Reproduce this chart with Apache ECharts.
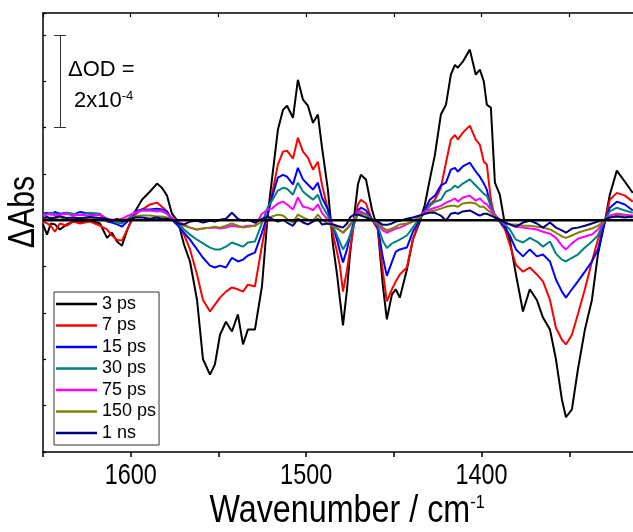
<!DOCTYPE html>
<html>
<head>
<meta charset="utf-8">
<script src="https://cdn.jsdelivr.net/npm/echarts@6/dist/echarts.min.js"></script>
<style>html,body{margin:0;padding:0;background:#fff}#c{width:633px;height:532px}</style>
</head>
<body>
<div id="c"></div>
<script>
const wavenumbers = [1650.0,1647.7,1645.5,1643.2,1640.4,1636.4,1632.9,1628.9,1623.2,1617.5,
1613.5,1610.7,1607.8,1605.0,1601.5,1597.5,1593.6,1589.0,1585.0,1582.2,
1579.3,1576.5,1573.0,1569.6,1566.2,1562.2,1558.8,1554.8,1552.0,1549.1,
1545.7,1542.3,1538.9,1536.0,1533.2,1529.2,1525.2,1521.8,1519.5,1516.1,
1513.2,1510.9,1507.5,1504.7,1501.8,1499.0,1496.1,1493.3,1491.0,1487.6,
1484.7,1482.4,1480.7,1479.0,1476.7,1475.0,1472.7,1470.5,1468.8,1465.9,
1462.5,1459.1,1456.3,1454.0,1451.1,1448.9,1446.6,1442.6,1439.2,1435.2,
1432.3,1429.5,1426.6,1423.2,1420.3,1417.5,1415.2,1413.5,1410.7,1406.7,
1403.3,1401.0,1398.7,1397.0,1394.7,1392.4,1389.6,1386.7,1383.9,1380.4,
1376.4,1372.5,1368.5,1365.0,1361.0,1357.6,1354.2,1351.9,1348.5,1345.1,
1341.1,1337.1,1333.7,1329.7,1326.9,1322.9,1318.3,1313.8];

// values in units of 1e-4 OD
const v3ps = [-0.09,-0.31,-0.07,-0.09,-0.20,-0.09,-0.03,-0.05,-0.01,-0.07,
-0.38,-0.27,-0.46,-0.55,-0.16,0.19,0.44,0.62,0.79,0.70,
0.53,0.14,-0.03,-0.53,-0.89,-1.72,-3.00,-3.33,-3.11,-2.47,
-2.19,-2.40,-2.03,-2.68,-2.36,-2.36,-1.43,0.15,0.88,1.95,
2.38,2.47,2.21,3.03,2.60,2.47,2.10,2.28,1.58,0.66,
-0.53,-1.17,-1.72,-2.27,-1.49,-0.74,0.06,0.77,0.98,0.88,
0.23,-0.20,-1.40,-2.14,-1.60,-1.49,-1.67,-1.07,-0.42,-0.03,
0.34,0.88,1.41,2.28,2.49,3.14,3.35,3.29,3.42,3.68,
3.14,3.25,2.99,2.49,2.43,0.81,0.55,-0.09,-0.42,-1.17,
-1.97,-1.49,-1.72,-2.10,-2.36,-3.00,-3.87,-4.25,-4.08,-3.22,
-2.36,-1.72,-0.74,-0.03,0.55,1.07,0.83,0.59];

const v7ps = [-0.03,-0.07,-0.12,-0.25,-0.07,-0.12,-0.03,-0.07,-0.03,-0.12,
-0.20,-0.33,-0.42,-0.44,-0.16,0.12,0.23,0.34,0.38,0.29,
0.19,0.01,-0.09,-0.31,-0.63,-1.17,-1.72,-1.97,-1.82,-1.67,
-1.54,-1.45,-1.49,-1.54,-1.39,-1.43,-0.55,0.14,0.55,1.20,
1.48,1.50,1.33,1.78,1.48,1.35,1.09,1.26,0.77,0.23,
-0.31,-0.68,-1.00,-1.54,-1.07,-0.63,-0.09,0.34,0.44,0.36,
0.01,-0.20,-1.10,-1.75,-1.49,-1.32,-1.17,-1.02,-0.42,0.03,
0.19,0.34,0.44,0.70,1.24,1.74,1.84,1.74,1.89,2.04,
1.74,1.63,1.26,1.20,0.44,0.06,-0.03,-0.20,-0.53,-0.96,
-1.11,-1.02,-1.17,-1.32,-1.72,-2.32,-2.58,-2.68,-2.47,-2.03,
-1.49,-0.89,-0.42,-0.03,0.44,0.59,0.53,0.40];

const v15ps = [0.14,0.16,0.12,0.18,0.14,0.16,0.12,0.18,0.14,0.12,
-0.03,-0.05,-0.09,-0.14,-0.01,0.19,0.23,0.23,0.25,0.23,
0.19,0.01,-0.12,-0.27,-0.42,-0.63,-0.81,-0.98,-1.02,-0.98,
-1.02,-0.81,-0.89,-0.85,-0.76,-0.70,-0.27,0.14,0.49,0.92,
0.98,0.94,0.77,1.13,0.88,0.77,0.66,0.81,0.49,0.23,
-0.16,-0.42,-0.68,-0.91,-0.63,-0.33,-0.03,0.21,0.27,0.21,
0.03,-0.16,-0.80,-1.20,-0.90,-0.68,-0.63,-0.59,-0.25,0.01,
0.23,0.44,0.53,0.75,0.81,1.09,1.13,1.05,1.16,1.24,
1.05,0.94,0.79,0.66,0.27,0.06,-0.03,-0.16,-0.33,-0.63,
-0.78,-0.63,-0.78,-0.74,-0.89,-1.28,-1.54,-1.67,-1.49,-1.32,
-1.11,-0.89,-0.63,-0.03,0.27,0.40,0.34,0.21];

const v30ps = [0.12,0.14,0.16,0.14,0.12,0.16,0.14,0.12,0.16,0.14,
0.01,-0.01,-0.05,-0.07,0.03,0.16,0.21,0.21,0.21,0.19,
0.14,0.03,-0.07,-0.20,-0.31,-0.42,-0.50,-0.59,-0.63,-0.63,
-0.57,-0.48,-0.53,-0.57,-0.48,-0.46,-0.07,0.29,0.42,0.64,
0.70,0.68,0.55,0.81,0.62,0.53,0.44,0.55,0.31,0.10,
-0.14,-0.33,-0.48,-0.63,-0.48,-0.33,-0.09,0.14,0.16,0.14,
0.01,-0.12,-0.45,-0.60,-0.50,-0.46,-0.42,-0.33,-0.16,0.06,
0.19,0.31,0.40,0.44,0.62,0.66,0.75,0.70,0.79,0.88,
0.75,0.66,0.57,0.53,0.31,0.12,-0.01,-0.09,-0.20,-0.42,
-0.48,-0.38,-0.46,-0.57,-0.46,-0.72,-0.85,-0.89,-0.81,-0.74,
-0.59,-0.46,-0.33,0.01,0.19,0.27,0.21,0.16];

const v75ps = [0.10,0.12,0.14,0.10,0.12,0.14,0.10,0.12,0.10,0.12,
0.03,0.01,0.01,0.03,0.10,0.16,0.21,0.21,0.19,0.21,
0.14,0.06,-0.03,-0.09,-0.16,-0.20,-0.18,-0.16,-0.16,-0.18,
-0.16,-0.12,-0.14,-0.14,-0.12,-0.12,0.14,0.23,0.25,0.36,
0.40,0.34,0.23,0.49,0.29,0.27,0.21,0.34,0.16,0.01,
-0.09,-0.16,-0.22,-0.27,-0.18,-0.12,0.03,0.19,0.19,0.12,
-0.01,-0.08,-0.22,-0.27,-0.22,-0.18,-0.16,-0.09,-0.03,0.10,
0.19,0.23,0.27,0.31,0.38,0.42,0.47,0.40,0.49,0.53,
0.42,0.47,0.38,0.34,0.23,0.12,0.01,-0.07,-0.09,-0.14,
-0.16,-0.18,-0.20,-0.25,-0.29,-0.38,-0.55,-0.63,-0.50,-0.40,
-0.35,-0.31,-0.20,-0.01,0.10,0.14,0.12,0.10];

const v150ps = [0.04,0.02,0.06,0.03,0.01,0.05,0.02,0.04,0.02,0.03,
-0.01,0.01,-0.03,-0.01,0.03,0.08,0.10,0.10,0.08,0.08,
0.06,0.01,-0.05,-0.12,-0.16,-0.20,-0.18,-0.16,-0.14,-0.16,
-0.12,-0.07,-0.12,-0.16,-0.14,-0.12,-0.03,0.03,0.08,0.12,
0.10,0.03,-0.05,0.12,0.06,0.01,-0.01,0.12,0.01,-0.07,
-0.14,-0.18,-0.22,-0.27,-0.18,-0.09,0.03,0.12,0.14,0.12,
0.01,-0.06,-0.16,-0.22,-0.18,-0.14,-0.09,-0.07,-0.03,0.06,
0.14,0.19,0.21,0.25,0.29,0.31,0.31,0.29,0.36,0.38,
0.36,0.29,0.29,0.23,0.16,0.08,0.01,-0.05,-0.09,-0.09,
-0.12,-0.12,-0.14,-0.16,-0.20,-0.27,-0.35,-0.38,-0.33,-0.27,
-0.22,-0.18,-0.12,-0.01,0.06,0.10,0.08,0.06];

const v1ns = [0.05,0.07,0.04,0.06,0.08,0.05,0.06,0.04,0.07,0.05,
0.03,-0.01,0.03,-0.03,0.01,0.06,0.06,0.03,0.06,0.03,
0.03,0.01,-0.07,-0.09,-0.03,-0.01,-0.05,-0.01,-0.03,0.01,
0.03,0.16,0.03,-0.01,0.01,-0.05,0.03,0.08,0.03,-0.03,
0.01,-0.05,-0.12,0.03,-0.05,-0.09,-0.03,0.03,-0.09,-0.07,
-0.09,-0.12,-0.14,-0.16,-0.07,0.06,0.12,0.12,0.10,0.06,
0.01,-0.03,-0.10,-0.10,-0.07,-0.03,-0.01,0.03,0.06,0.10,
0.14,0.16,0.16,0.10,-0.01,0.14,0.16,0.14,0.19,0.21,
0.14,0.10,0.14,0.14,0.10,0.06,0.01,-0.05,-0.09,-0.14,
-0.05,-0.01,-0.07,-0.16,-0.05,-0.16,-0.22,-0.27,-0.18,-0.16,
-0.12,-0.07,-0.03,0.01,0.06,0.08,0.06,0.08];

const seriesNames = ['3 ps','7 ps','15 ps','30 ps','75 ps','150 ps','1 ns'];
const seriesValues = [v3ps, v7ps, v15ps, v30ps, v75ps, v150ps, v1ns];
const seriesColors = ['#000000','#ff0000','#0000ff','#008080','#ff00ff','#808000','#000080'];
const xTickLabels = [1600, 1500, 1400];
const scaleBar = {x: 1640.3, from: 2, to: 4, cap: 3.4};

const FONT = "'Liberation Sans',Arial,sans-serif";

const chart = echarts.init(document.getElementById('c'), null, {renderer: 'canvas'});

const lines = seriesNames.map((n, k) => ({
  name: n, type: 'line', symbol: 'none', showSymbol: false, smooth: false,
  animation: false, z: 2 + k,
  lineStyle: {color: seriesColors[k], width: 2},
  itemStyle: {color: seriesColors[k]},
  data: wavenumbers.map((w, i) => [w, seriesValues[k][i]])
}));

lines.push({
  name: 'zero', type: 'line', symbol: 'none', showSymbol: false, animation: false, z: 20,
  lineStyle: {color: '#000', width: 2.5},
  data: [[1650, 0], [1300, 0]],
  markLine: {
    silent: true, symbol: ['none', 'none'], animation: false,
    label: {show: false},
    lineStyle: {color: '#333', width: 1, type: 'solid'},
    data: [
      [{coord: [scaleBar.x, scaleBar.from]}, {coord: [scaleBar.x, scaleBar.to]}],
      [{coord: [scaleBar.x + scaleBar.cap, scaleBar.to]}, {coord: [scaleBar.x - scaleBar.cap, scaleBar.to]}],
      [{coord: [scaleBar.x + scaleBar.cap, scaleBar.from]}, {coord: [scaleBar.x - scaleBar.cap, scaleBar.from]}]
    ]
  }
});

const xCommon = {
  type: 'value', min: 1300, max: 1650, interval: 50, inverse: true,
  splitLine: {show: false}
};

chart.setOption({
  animation: false,
  backgroundColor: '#fff',
  grid: {left: 43, top: 13, width: 614, height: 439, containLabel: false, outerBoundsMode: 'none'},
  xAxis: [
    Object.assign({}, xCommon, {
      position: 'bottom',
      axisLine: {show: true, onZero: false, lineStyle: {color: '#000', width: 1.5}},
      axisTick: {show: true, inside: false, length: 5, lineStyle: {color: '#000', width: 1.5}},
      axisLabel: {show: false}
    }),
    Object.assign({}, xCommon, {
      position: 'top',
      axisLine: {show: true, onZero: false, lineStyle: {color: '#000', width: 1.5}},
      axisTick: {show: true, inside: true, length: 4, lineStyle: {color: '#000', width: 1.2}},
      axisLabel: {show: false}
    })
  ],
  yAxis: {
    type: 'value', min: -5, max: 4.47, interval: 1,
    axisLine: {show: true, onZero: false, lineStyle: {color: '#000', width: 1.5}},
    axisTick: {show: true, inside: true, length: 3, lineStyle: {color: '#000', width: 1.2}},
    axisLabel: {show: false},
    splitLine: {show: false}
  },
  legend: {
    data: seriesNames,
    orient: 'vertical', left: 54, top: 292,
    icon: 'rect', itemWidth: 41, itemHeight: 2.5, itemGap: 1.5,
    padding: [2, 3, 2, 2],
    borderColor: '#333', borderWidth: 1, backgroundColor: '#fff',
    textStyle: {color: '#000', fontSize: 18, lineHeight: 20, fontFamily: FONT},
    selectedMode: false
  },
  series: lines
});

// text elements (tick labels placed through the axis scale)
const graphics = xTickLabels.map(v => ({
  type: 'text', x: chart.convertToPixel({xAxisIndex: 0}, v), y: 476, scaleX: 0.78,
  style: {text: String(v), fill: '#000', fontSize: 30, fontFamily: FONT, align: 'center', verticalAlign: 'middle'}
}));
graphics.push(
  {type: 'text', x: 24, y: 212, rotation: Math.PI / 2, scaleX: 0.84,
   style: {text: 'ΔAbs', fill: '#000', fontSize: 36, fontFamily: FONT, align: 'center', verticalAlign: 'middle'}},
  {type: 'text', x: 347, y: 512, scaleX: 0.85,
   style: {text: 'Wavenumber / cm{s|-1}', fill: '#000', fontSize: 38, fontFamily: FONT,
     align: 'center', verticalAlign: 'middle',
     rich: {s: {fontSize: 19, fontFamily: FONT, verticalAlign: 'top', fill: '#000'}}}},
  {type: 'text', x: 68, y: 70,
   style: {text: 'ΔOD =', fill: '#000', fontSize: 22, fontFamily: FONT, align: 'left', verticalAlign: 'middle'}},
  {type: 'text', x: 74, y: 101,
   style: {text: '2x10{s|-4}', fill: '#000', fontSize: 22, fontFamily: FONT, align: 'left', verticalAlign: 'middle',
     rich: {s: {fontSize: 13, fontFamily: FONT, verticalAlign: 'top', fill: '#000'}}}}
);
chart.setOption({graphic: graphics});
</script>
</body>
</html>
